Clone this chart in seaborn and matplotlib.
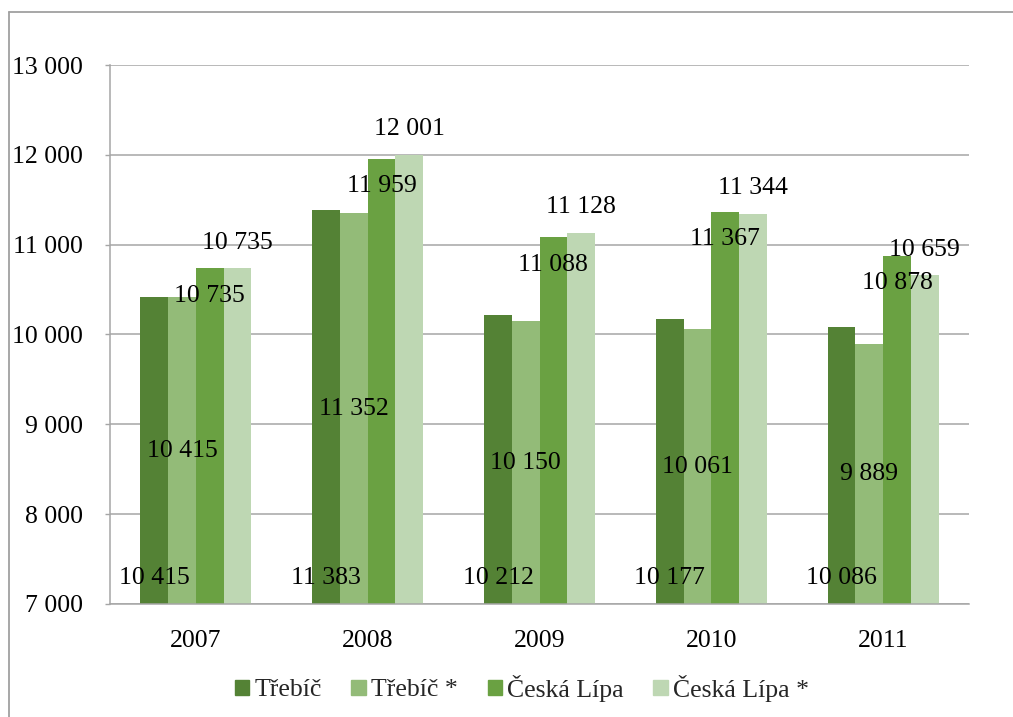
import matplotlib
matplotlib.use("Agg")
import matplotlib.pyplot as plt
from matplotlib.ticker import FuncFormatter, MultipleLocator
from matplotlib.lines import Line2D
import seaborn as sns
import pandas as pd

years = ["2007", "2008", "2009", "2010", "2011"]
series_names = ["Třebíč", "Třebíč *", "Česká Lípa", "Česká Lípa *"]
trebic = [10415, 11383, 10212, 10177, 10086]
trebic_adj = [10415, 11352, 10150, 10061, 9889]
ceska_lipa = [10735, 11959, 11088, 11367, 10878]
ceska_lipa_adj = [10735, 12001, 11128, 11344, 10659]
colors = ["#548235", "#93BB78", "#6AA142", "#BED7B3"]

values = [trebic, trebic_adj, ceska_lipa, ceska_lipa_adj]
df = pd.DataFrame(
    [(y, name, v) for name, vals in zip(series_names, values) for y, v in zip(years, vals)],
    columns=["year", "series", "value"],
)

sns.set_theme(style="white")
plt.rcParams["font.family"] = ["Liberation Serif", "DejaVu Serif"]
FS = 18.5

fig = plt.figure(figsize=(10.13, 7.17), dpi=100)
W, H = 1013, 717
ax = fig.add_axes([110 / W, 1 - 604 / H, (969 - 110) / W, (604 - 65) / H])

sns.barplot(
    data=df, x="year", y="value", hue="series", order=years, hue_order=series_names,
    palette=colors, width=0.645, gap=0, linewidth=0, saturation=1, ax=ax, legend=False,
    zorder=2,
)

BASE = 7000
ax.set_ylim(BASE, 13000)
ax.set_xlim(-0.5, len(years) - 0.5)
ax.yaxis.set_major_locator(MultipleLocator(1000))


def fmt(v):
    return f"{int(round(v)):,}".replace(",", " ")


ax.yaxis.set_major_formatter(FuncFormatter(lambda v, p: fmt(v)))
ax.set_xlabel("")
ax.set_ylabel("")

grid_c = "#A6A6A6"
ax.grid(axis="y", color=grid_c, linewidth=1.1, zorder=0)
ax.set_axisbelow(True)
for s in ["top", "right"]:
    ax.spines[s].set_visible(False)
for s in ["left", "bottom"]:
    ax.spines[s].set_color(grid_c)
    ax.spines[s].set_linewidth(1.1)

ax.tick_params(axis="y", which="major", left=True, length=3.5, width=1, color=grid_c,
               labelsize=FS, pad=16, labelcolor="black")
ax.tick_params(axis="x", bottom=False, labelsize=FS, pad=12.5, labelcolor="black")

# data labels: inside base, center, inside end, outside end
for i, cont in enumerate(ax.containers):
    for bar, v in zip(cont.patches, values[i]):
        x = bar.get_x() + bar.get_width() / 2
        if i == 0:
            xy, dy = (x, BASE), 19
        elif i == 1:
            xy, dy = (x, (BASE + v) / 2), 0
        elif i == 2:
            xy, dy = (x, v), -20
        else:
            xy, dy = (x, v), 18.5
        ax.annotate(fmt(v), xy=xy, xytext=(0, dy), textcoords="offset points",
                    ha="center", va="center", fontsize=FS, color="black", zorder=5)

handles = [plt.Rectangle((0, 0), 1, 1, color=c) for c in colors]
fig.legend(handles, series_names, loc="center", bbox_to_anchor=(522 / W, 1 - 688 / H),
           ncol=4, frameon=False, fontsize=FS, handlelength=0.55, handleheight=0.55,
           handletextpad=0.22, columnspacing=1.15)

# outer chart border
fig.add_artist(Line2D([9 / W, 9 / W], [0, 1 - 12 / H], transform=fig.transFigure,
                      color="#A0A0A0", linewidth=1.3))
fig.add_artist(Line2D([9 / W, 1], [1 - 12 / H, 1 - 12 / H], transform=fig.transFigure,
                      color="#A0A0A0", linewidth=1.3))

fig.savefig("out.png", dpi=100)
